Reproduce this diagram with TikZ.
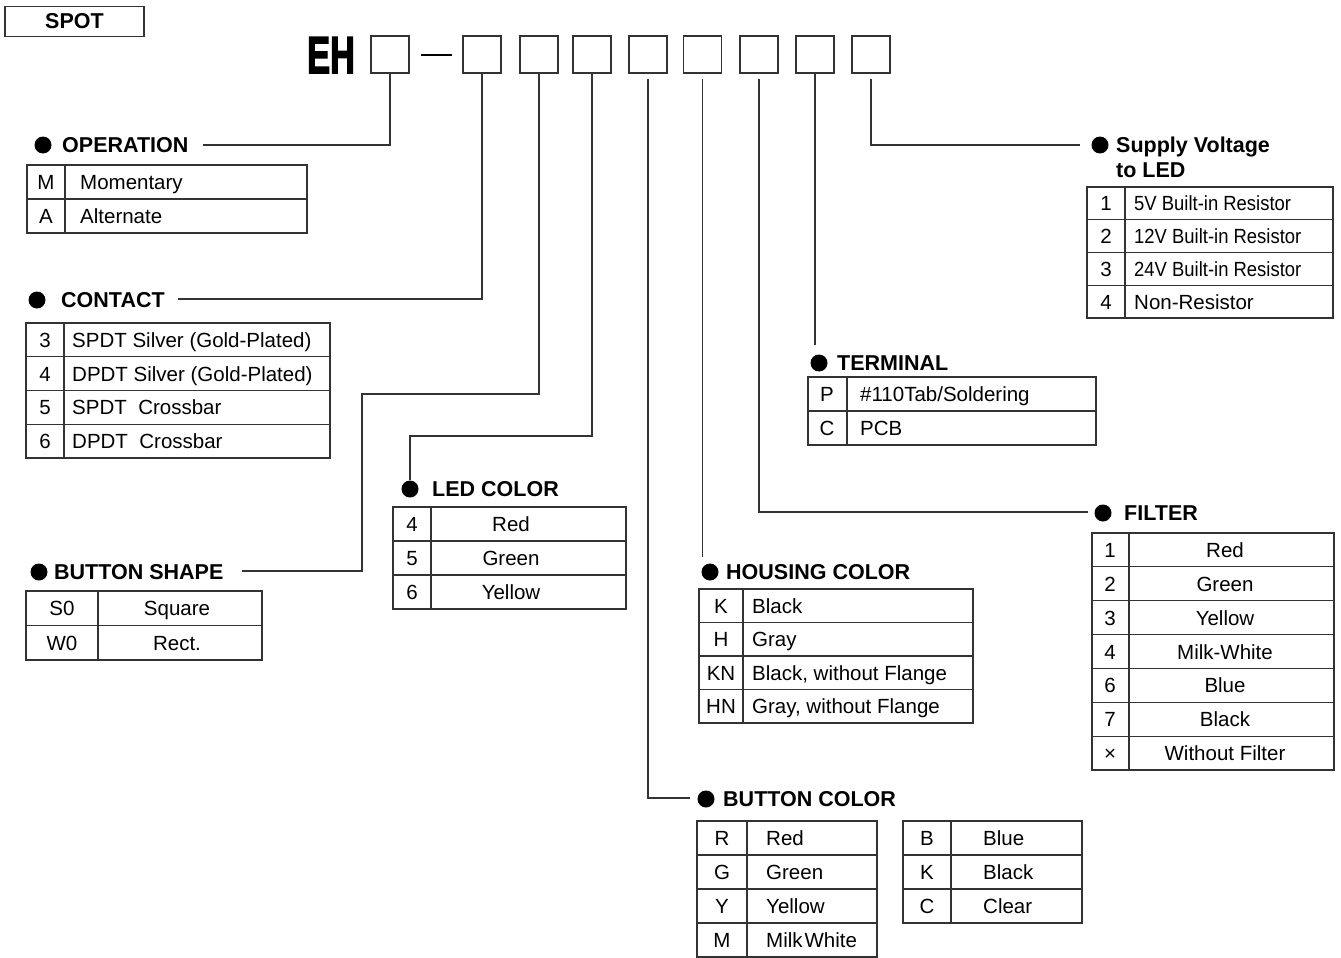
\documentclass[tikz,border=0pt]{standalone}
\usepackage{fontspec}
\setmainfont{Liberation Sans}
\newfontfamily\ehfont[FakeBold=3]{Liberation Sans Bold}
\definecolor{lc}{gray}{0.2}
\newcommand{\myhd}{\fontsize{21.5}{25}\selectfont\bfseries}
\newcommand{\mytx}{\fontsize{20.5}{24}\selectfont}
\newcommand{\tgrid}[6]{%
  \pgfmathsetmacro{\tgyb}{#4+#5*#6}
  \draw[tl] (#1,#4) rectangle (#2,\tgyb);
  \draw[tl] (#3,#4) -- (#3,\tgyb);
  \foreach \k in {2,...,#6}{\pgfmathsetmacro{\tgyy}{#4+#5*(\k-1)}\draw[tl] (#1,\tgyy) -- (#2,\tgyy);}
}
\newcommand{\rowL}[6]{\node[tk] (#1k) at (#2,{#4+7.4}) {#5}; \node[tv] (#1v) at (#3,{#4+7.4}) {#6};}
\newcommand{\rowC}[6]{\node[tk] (#1k) at (#2,{#4+7.4}) {#5}; \node[tk] (#1v) at (#3,{#4+7.4}) {#6};}
\begin{document}
\begin{tikzpicture}[x=1pt,y=-1pt,
  tl/.style={draw=lc,line width=1.05pt},
  ln/.style={draw=lc,line width=1.05pt},
  box/.style={draw=lc,line width=1.2pt,minimum width=38pt,minimum height=37pt,inner sep=0pt},
  dot/.style={circle,fill=black,minimum size=17pt,inner sep=0pt},
  hd/.style={anchor=base west,inner sep=0pt,font=\myhd},
  tk/.style={anchor=base,inner sep=0pt,font=\mytx},
  tv/.style={anchor=base west,inner sep=0pt,font=\mytx}]
\useasboundingbox (0,0) rectangle (1341,958);

% title
\node[draw=lc,line width=1.1pt,minimum width=139pt,minimum height=30pt,inner sep=0pt,font=\myhd] (spot) at (74.5,21.5) {SPOT};
\node[anchor=base west,inner sep=0pt] (eh) at (307,73) {\scalebox{0.66}[1]{\fontsize{52}{52}\selectfont\ehfont EH}};
\node[box] (b1) at (390,54.5) {};
\draw[line width=2.8pt] (421,55) -- (452,55);
\node[box] (b2) at (482,54.5) {};
\node[box] (b3) at (539,54.5) {};
\node[box] (b4) at (592,54.5) {};
\node[box] (b5) at (648,54.5) {};
\node[box] (b6) at (702.5,54.5) {};
\node[box] (b7) at (759,54.5) {};
\node[box] (b8) at (815,54.5) {};
\node[box] (b9) at (871,54.5) {};

% headings
\node[dot] (opd) at (43,145) {};   \node[hd] (oph) at (62,152.6) {OPERATION};
\node[dot] (ctd) at (37,300) {};   \node[hd] (cth) at (61,307.6) {CONTACT};
\node[dot] (bsd) at (39,572) {};   \node[hd] (bsh) at (54,579.6) {BUTTON SHAPE};
\node[dot] (ldd) at (410,489) {};  \node[hd] (ldh) at (432,496.6) {LED COLOR};
\node[dot] (hcd) at (710,572) {};  \node[hd] (hch) at (726,579.6) {HOUSING COLOR};
\node[dot] (tmd) at (819,363) {};  \node[hd] (tmh) at (837,370.6) {TERMINAL};
\node[dot] (fld) at (1103,513) {}; \node[hd] (flh) at (1124,520.6) {FILTER};
\node[dot] (svd) at (1100,145) {}; \node[hd] (svh) at (1116,152.6) {Supply Voltage};
\node[hd] (svh2) at (1116,177.6) {to LED};
\node[dot] (bcd) at (706,799) {};  \node[hd] (bch) at (723,806.6) {BUTTON COLOR};

% connectors
\coordinate (c1) at (203,145);
\coordinate (c2) at (178,299);
\coordinate (c3a) at (362,394);
\coordinate (c3) at (242,571);
\coordinate (c4a) at (410,436);
\coordinate (c5) at (690,798);
\coordinate (c6) at (702.5,557);
\coordinate (c7) at (1088,512);
\coordinate (c8) at (815,345);
\coordinate (c9) at (1080,145);
\draw[ln] (b1.south) |- (c1);
\draw[ln] (b2.south) |- (c2);
\draw[ln] (b3.south) |- (c3a) |- (c3);
\draw[ln] (b4.south) |- (c4a) -- (ldd.north);
\draw[ln] ([yshift=-5pt]b5.south) |- (c5);
\draw[ln] ([yshift=-5pt]b6.south) -- (c6);
\draw[ln] ([yshift=-5pt]b7.south) |- (c7);
\draw[ln] (b8.south) -- (c8);
\draw[ln] ([yshift=-5pt]b9.south) |- (c9);

% tables
\tgrid{27}{307}{65}{165}{34}{2}
\rowL{op1}{46}{80}{182}{M}{Momentary}
\rowL{op2}{46}{80}{216}{A}{Alternate}

\tgrid{26}{330}{64}{323}{33.75}{4}
\rowL{ct1}{45}{72}{339.9}{3}{SPDT Silver (Gold-Plated)}
\rowL{ct2}{45}{72}{373.6}{4}{DPDT Silver (Gold-Plated)}
\rowL{ct3}{45}{72}{407.4}{5}{SPDT\ \ Crossbar}
\rowL{ct4}{45}{72}{441.1}{6}{DPDT\ \ Crossbar}

\tgrid{26}{262}{98}{591}{34.5}{2}
\rowC{bs1}{62}{177}{608.25}{S0}{Square}
\rowC{bs2}{62}{177}{642.75}{W0}{Rect.}

\tgrid{393}{626}{431}{507}{34}{3}
\rowC{ld1}{412}{511}{524}{4}{Red}
\rowC{ld2}{412}{511}{558}{5}{Green}
\rowC{ld3}{412}{511}{592}{6}{Yellow}

\tgrid{699}{973}{743}{589}{33.5}{4}
\rowL{hc1}{721}{752}{605.75}{K}{Black}
\rowL{hc2}{721}{752}{639.25}{H}{Gray}
\rowL{hc3}{721}{752}{672.75}{KN}{Black, without Flange}
\rowL{hc4}{721}{752}{706.25}{HN}{Gray, without Flange}

\tgrid{808}{1096}{847}{377}{34}{2}
\rowL{tm1}{827}{860}{394}{P}{\#110Tab/Soldering}
\rowL{tm2}{827}{860}{428}{C}{PCB}

\tgrid{1092}{1334}{1129}{533}{33.857}{7}
\rowC{fl1}{1110}{1225}{550}{1}{Red}
\rowC{fl2}{1110}{1225}{583.8}{2}{Green}
\rowC{fl3}{1110}{1225}{617.7}{3}{Yellow}
\rowC{fl4}{1110}{1225}{651.6}{4}{Milk-White}
\rowC{fl5}{1110}{1225}{685.4}{6}{Blue}
\rowC{fl6}{1110}{1225}{719.3}{7}{Black}
\rowC{fl7}{1110}{1225}{753.1}{×}{Without Filter}

\tgrid{1087}{1333}{1125}{187}{32.75}{4}
\rowL{sv1}{1106}{1134}{203.4}{1}{\scalebox{0.9}[1]{5V Built-in Resistor}}
\rowL{sv2}{1106}{1134}{236.1}{2}{\scalebox{0.9}[1]{12V Built-in Resistor}}
\rowL{sv3}{1106}{1134}{268.9}{3}{\scalebox{0.9}[1]{24V Built-in Resistor}}
\rowL{sv4}{1106}{1134}{301.6}{4}{Non-Resistor}

\tgrid{697}{877}{747}{821}{34}{4}
\rowL{bc1}{722}{766}{838}{R}{Red}
\rowL{bc2}{722}{766}{872}{G}{Green}
\rowL{bc3}{722}{766}{906}{Y}{Yellow}
\rowL{bc4}{722}{766}{940}{M}{Milk\hspace{2pt}White}

\tgrid{903}{1082}{951}{821}{34}{3}
\rowL{bc5}{927}{983}{838}{B}{Blue}
\rowL{bc6}{927}{983}{872}{K}{Black}
\rowL{bc7}{927}{983}{906}{C}{Clear}
\end{tikzpicture}
\end{document}
